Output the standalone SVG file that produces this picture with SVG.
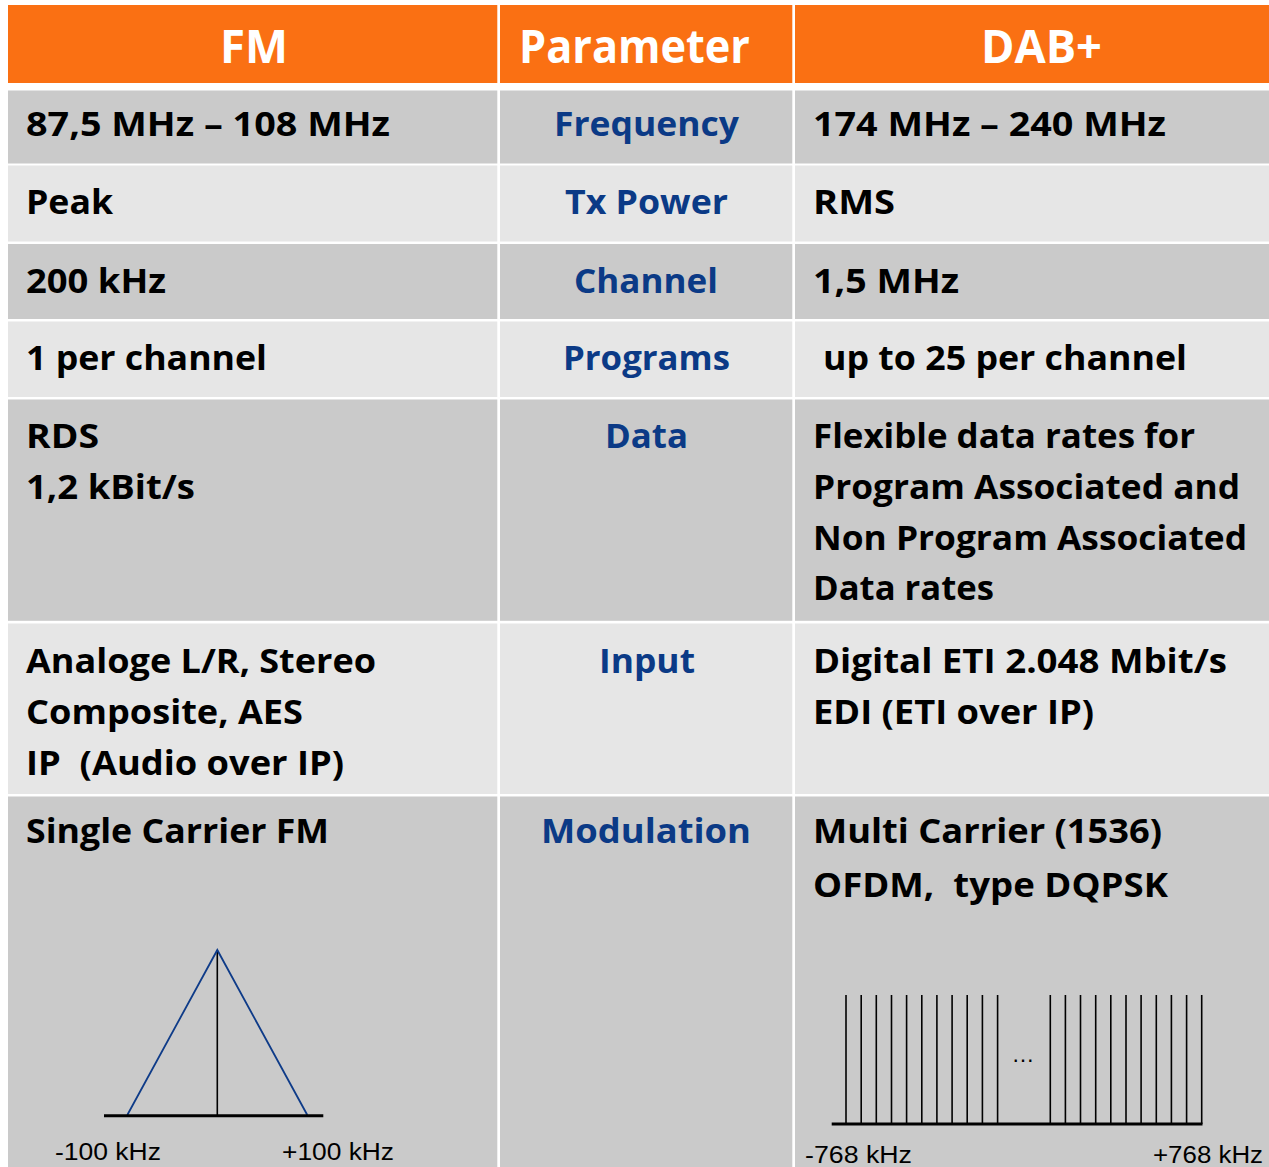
<svg xmlns="http://www.w3.org/2000/svg" width="1269" height="1167" viewBox="0 0 1269 1167">
<style>
.hd{fill:#FA7013}
.dk{fill:#CACACA}
.lt{fill:#E6E6E6}
.ht{font-family:"Open Sans","Liberation Sans",sans-serif;font-weight:bold;font-size:46px;fill:#FFFFFF}
.t{font-family:"Open Sans","Liberation Sans",sans-serif;font-weight:bold;font-size:34px;fill:#000000}
.p{font-family:"Open Sans","Liberation Sans",sans-serif;font-weight:bold;font-size:34px;fill:#0B3A86}
.ax{font-family:"Liberation Sans",Arial,sans-serif;font-size:23px;fill:#000000}
.base{stroke:#000000;stroke-width:3}
.car{stroke:#000000;stroke-width:1.6}
.tri{stroke:#0E3B88;stroke-width:1.8;fill:none}
</style>
<rect x="0" y="0" width="1269" height="1167" fill="#FFFFFF"/>
<g id="header">
<rect class="hd" x="8" y="5" width="489.3" height="78"/>
<rect class="hd" x="500" y="5" width="292.3" height="78"/>
<rect class="hd" x="795" y="5" width="474" height="78"/>
<text class="ht" x="220" y="63" textLength="68" lengthAdjust="spacingAndGlyphs">FM</text>
<text class="ht" x="519" y="63" textLength="231" lengthAdjust="spacingAndGlyphs">Parameter</text>
<text class="ht" x="981" y="63" textLength="121" lengthAdjust="spacingAndGlyphs">DAB+</text>
</g>
<g id="row-frequency">
<rect class="dk" x="8" y="90.5" width="489.3" height="73"/>
<rect class="dk" x="500" y="90.5" width="292.3" height="73"/>
<rect class="dk" x="795" y="90.5" width="474" height="73"/>
<text class="t" x="26" y="136" textLength="364" lengthAdjust="spacingAndGlyphs">87,5 MHz – 108 MHz</text>
<text class="p" x="554" y="136" textLength="185" lengthAdjust="spacingAndGlyphs">Frequency</text>
<text class="t" x="813" y="136" textLength="353" lengthAdjust="spacingAndGlyphs">174 MHz – 240 MHz</text>
</g>
<g id="row-txpower">
<rect class="lt" x="8" y="165.5" width="489.3" height="76"/>
<rect class="lt" x="500" y="165.5" width="292.3" height="76"/>
<rect class="lt" x="795" y="165.5" width="474" height="76"/>
<text class="t" x="26" y="213.5" textLength="87" lengthAdjust="spacingAndGlyphs">Peak</text>
<text class="p" x="565" y="213.5" textLength="163" lengthAdjust="spacingAndGlyphs">Tx Power</text>
<text class="t" x="813" y="213.5" textLength="82" lengthAdjust="spacingAndGlyphs">RMS</text>
</g>
<g id="row-channel">
<rect class="dk" x="8" y="244" width="489.3" height="75"/>
<rect class="dk" x="500" y="244" width="292.3" height="75"/>
<rect class="dk" x="795" y="244" width="474" height="75"/>
<text class="t" x="26" y="292.5" textLength="140" lengthAdjust="spacingAndGlyphs">200 kHz</text>
<text class="p" x="574" y="292.5" textLength="144" lengthAdjust="spacingAndGlyphs">Channel</text>
<text class="t" x="813" y="292.5" textLength="146" lengthAdjust="spacingAndGlyphs">1,5 MHz</text>
</g>
<g id="row-programs">
<rect class="lt" x="8" y="321.5" width="489.3" height="75.5"/>
<rect class="lt" x="500" y="321.5" width="292.3" height="75.5"/>
<rect class="lt" x="795" y="321.5" width="474" height="75.5"/>
<text class="t" x="26" y="370" textLength="241" lengthAdjust="spacingAndGlyphs">1 per channel</text>
<text class="p" x="563" y="370" textLength="167" lengthAdjust="spacingAndGlyphs">Programs</text>
<text class="t" x="823" y="370" textLength="364" lengthAdjust="spacingAndGlyphs">up to 25 per channel</text>
</g>
<g id="row-data">
<rect class="dk" x="8" y="399.5" width="489.3" height="221.3"/>
<rect class="dk" x="500" y="399.5" width="292.3" height="221.3"/>
<rect class="dk" x="795" y="399.5" width="474" height="221.3"/>
<text class="t" x="26" y="447.7" textLength="73" lengthAdjust="spacingAndGlyphs">RDS</text>
<text class="t" x="26" y="499.3" textLength="169" lengthAdjust="spacingAndGlyphs">1,2 kBit/s</text>
<text class="p" x="605" y="447.7" textLength="83" lengthAdjust="spacingAndGlyphs">Data</text>
<text class="t" x="813" y="447.7" textLength="382" lengthAdjust="spacingAndGlyphs">Flexible data rates for</text>
<text class="t" x="813" y="499.3" textLength="427" lengthAdjust="spacingAndGlyphs">Program Associated and</text>
<text class="t" x="813" y="549.6" textLength="434" lengthAdjust="spacingAndGlyphs">Non Program Associated</text>
<text class="t" x="813" y="600" textLength="181" lengthAdjust="spacingAndGlyphs">Data rates</text>
</g>
<g id="row-input">
<rect class="lt" x="8" y="623.5" width="489.3" height="170.5"/>
<rect class="lt" x="500" y="623.5" width="292.3" height="170.5"/>
<rect class="lt" x="795" y="623.5" width="474" height="170.5"/>
<text class="t" x="26" y="673.3" textLength="350" lengthAdjust="spacingAndGlyphs">Analoge L/R, Stereo</text>
<text class="t" x="26" y="723.5" textLength="277" lengthAdjust="spacingAndGlyphs">Composite, AES</text>
<text class="t" x="26" y="775" textLength="318" lengthAdjust="spacingAndGlyphs" xml:space="preserve">IP  (Audio over IP)</text>
<text class="p" x="599" y="673.3" textLength="96" lengthAdjust="spacingAndGlyphs">Input</text>
<text class="t" x="813" y="673.3" textLength="414" lengthAdjust="spacingAndGlyphs">Digital ETI 2.048 Mbit/s</text>
<text class="t" x="813" y="724" textLength="281" lengthAdjust="spacingAndGlyphs">EDI (ETI over IP)</text>
</g>
<g id="row-modulation">
<rect class="dk" x="8" y="796.5" width="489.3" height="370.5"/>
<rect class="dk" x="500" y="796.5" width="292.3" height="370.5"/>
<rect class="dk" x="795" y="796.5" width="474" height="370.5"/>
<text class="t" x="26" y="843.3" textLength="303" lengthAdjust="spacingAndGlyphs">Single Carrier FM</text>
<text class="p" x="541" y="843.3" textLength="210" lengthAdjust="spacingAndGlyphs">Modulation</text>
<text class="t" x="813" y="843" textLength="349" lengthAdjust="spacingAndGlyphs">Multi Carrier (1536)</text>
<text class="t" x="813" y="897.3" textLength="355" lengthAdjust="spacingAndGlyphs" xml:space="preserve">OFDM,  type DQPSK</text>
</g>
<g id="fm-spectrum">
<line class="car" x1="217.3" y1="950" x2="217.3" y2="1115" stroke-width="1.2"/>
<polyline class="tri" points="127.3,1115 217.3,950 307.3,1115"/>
<line class="base" x1="104" y1="1115.7" x2="323.3" y2="1115.7"/>
<text class="ax" x="55" y="1160" textLength="106" lengthAdjust="spacingAndGlyphs">-100 kHz</text>
<text class="ax" x="282" y="1160" textLength="112" lengthAdjust="spacingAndGlyphs">+100 kHz</text>
</g>
<g id="dab-spectrum">
<g class="car">
<line x1="846" y1="995" x2="846" y2="1124"/>
<line x1="861.2" y1="995" x2="861.2" y2="1124"/>
<line x1="876.3" y1="995" x2="876.3" y2="1124"/>
<line x1="891.5" y1="995" x2="891.5" y2="1124"/>
<line x1="906.6" y1="995" x2="906.6" y2="1124"/>
<line x1="921.8" y1="995" x2="921.8" y2="1124"/>
<line x1="936.9" y1="995" x2="936.9" y2="1124"/>
<line x1="952.1" y1="995" x2="952.1" y2="1124"/>
<line x1="967.2" y1="995" x2="967.2" y2="1124"/>
<line x1="982.4" y1="995" x2="982.4" y2="1124"/>
<line x1="997.6" y1="995" x2="997.6" y2="1124"/>
<line x1="1050.3" y1="995" x2="1050.3" y2="1124"/>
<line x1="1065.4" y1="995" x2="1065.4" y2="1124"/>
<line x1="1080.5" y1="995" x2="1080.5" y2="1124"/>
<line x1="1095.7" y1="995" x2="1095.7" y2="1124"/>
<line x1="1110.8" y1="995" x2="1110.8" y2="1124"/>
<line x1="1126" y1="995" x2="1126" y2="1124"/>
<line x1="1141.1" y1="995" x2="1141.1" y2="1124"/>
<line x1="1156.3" y1="995" x2="1156.3" y2="1124"/>
<line x1="1171.4" y1="995" x2="1171.4" y2="1124"/>
<line x1="1186.6" y1="995" x2="1186.6" y2="1124"/>
<line x1="1201.7" y1="995" x2="1201.7" y2="1124"/>
</g>
<line class="base" x1="831.7" y1="1124" x2="1202.5" y2="1124"/>
<text class="ax" x="1023" y="1062" text-anchor="middle" font-size="16">…</text>
<text class="ax" x="805" y="1163" textLength="107" lengthAdjust="spacingAndGlyphs">-768 kHz</text>
<text class="ax" x="1153" y="1163" textLength="110" lengthAdjust="spacingAndGlyphs">+768 kHz</text>
</g>
</svg>
